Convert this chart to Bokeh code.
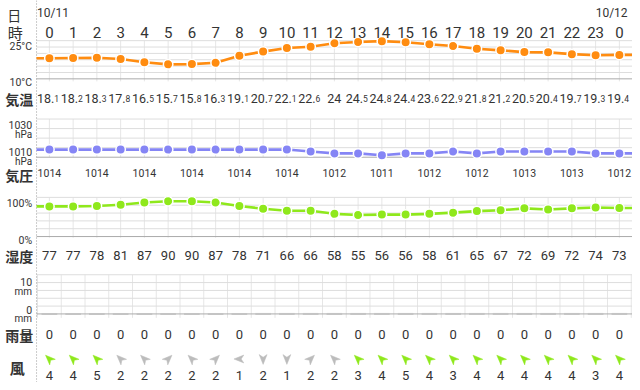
import math
from bokeh.plotting import figure
from bokeh.models import Range1d
from bokeh.core.properties import value
from bokeh.embed import file_html
from bokeh.resources import INLINE

# ---------------- data ----------------
hours = list(range(25))
hour_labels = ["0", "1", "2", "3", "4", "5", "6", "7", "8", "9", "10", "11", "12",
               "13", "14", "15", "16", "17", "18", "19", "20", "21", "22", "23", "0"]
date_labels = ["10/11", "10/12"]
date_hours = [0, 24]
temp = [18.1, 18.2, 18.3, 17.8, 16.5, 15.7, 15.8, 16.3, 19.1, 20.7, 22.1, 22.6, 24.0,
        24.5, 24.8, 24.4, 23.6, 22.9, 21.8, 21.2, 20.5, 20.4, 19.7, 19.3, 19.4]
pressure = [1014, 1014, 1014, 1014, 1014, 1014, 1014, 1014, 1014, 1014, 1014, 1013, 1012,
            1012, 1011, 1012, 1012, 1013, 1012, 1013, 1013, 1013, 1013, 1012, 1012]
humidity = [77, 77, 78, 81, 87, 90, 90, 87, 78, 71, 66, 66, 58, 55, 56, 56, 58, 61, 65,
            67, 72, 69, 72, 74, 73]
rain = [0, 0, 0, 0, 0, 0, 0, 0, 0, 0, 0, 0, 0, 0, 0, 0, 0, 0, 0, 0, 0, 0, 0, 0, 0]
wind_speed = [4, 4, 5, 2, 2, 2, 2, 2, 1, 2, 1, 2, 2, 3, 4, 5, 4, 3, 4, 4, 4, 4, 4, 3, 4]
wind_from = ["SE", "SE", "SE", "SE", "SE", "SW", "SE", "SW", "E", "N", "N", "SW", "SE",
             "SE", "SE", "SE", "SE", "SE", "SE", "SE", "SE", "SE", "SE", "SE", "SE"]
compass = {"N": 0, "NE": 45, "E": 90, "SE": 135, "S": 180, "SW": 225, "W": 270, "NW": 315}

temp_ticks = [25, 10]
pres_ticks = [1030, 1010]
hum_ticks = [100, 0]
rain_ticks = [10, 0]

# ---------------- layout (reference pixel frame 640x390, drawn into 632x382) ----------
W, H = 632, 382
REF_W, REF_H = 640, 390
SX = W / REF_W
PX0, DX = 49.5, 24.05          # reference x of hour 0, reference pixels per hour
def hx(px):                     # reference x -> hour coordinate
    return (px - PX0) / DX

DAY_EDGE = hx(36.5)
XEND = hx(REF_W)

FONT = "Roboto"
JFONT = "Noto Sans CJK JP"
TXT = "#333333"
GRID = "#dddddd"
GRID_DARK = "#aaaaaa"
VGRID = "#e6e6e6"
C_TEMP = "#ff8c10"
C_PRES = "#8585f5"
C_HUM = "#8fe81c"
C_WIND = "#8fe81c"
C_WIND_LOW = "#bcbcbc"

p = figure(width=W, height=H, output_backend="svg", toolbar_location=None,
           x_range=Range1d(hx(0), XEND), y_range=Range1d(REF_H, 0),
           x_axis_type=None, y_axis_type=None, min_border=0)
p.outline_line_color = None
p.background_fill_color = "white"
p.border_fill_color = "white"


def band(v_top, y_top, v_bot, y_bot):
    k = (y_bot - y_top) / (v_top - v_bot)
    return Range1d(start=v_bot - (REF_H - y_bot) / k, end=v_top + y_top / k)

p.extra_y_ranges = {
    "temp": band(temp_ticks[0], 41, temp_ticks[1], 80),
    "pres": band(pres_ticks[0], 121, pres_ticks[1], 160),
    "hum": band(hum_ticks[0], 201, hum_ticks[1], 241),
    "rain": band(rain_ticks[0], 280, rain_ticks[1], 320),
}


def text(x, y, t, size, color=TXT, align="center", font=FONT, style="normal", x_off=0, **kw):
    if isinstance(x_off, list):
        x_off = [v * SX for v in x_off]
    else:
        x_off = x_off * SX
    p.text(x=x, y=y, text=t, text_font=value(font), text_font_size=size,
           text_color=color, text_align=align, text_baseline="alphabetic",
           text_font_style=style, x_offset=x_off, **kw)


def left(ref_x, y, t, size, align="right", font=FONT, style="normal", color=TXT):
    text([hx(0)], [y], [t], size, color=color, align=align, font=font, style=style,
         x_off=ref_x)


def hgrid(levels, name, dark_level):
    for lv in levels:
        p.segment(x0=[DAY_EDGE], y0=[lv], x1=[XEND], y1=[lv], y_range_name=name,
                  line_color=GRID_DARK if lv == dark_level else GRID, line_width=1)


def vgrid(xs, top, bot, name):
    p.segment(x0=xs, y0=[top] * len(xs), x1=xs, y1=[bot] * len(xs), y_range_name=name,
              line_color=VGRID, line_width=1)


def series(vals, name, color):
    xs = [DAY_EDGE] + hours + [XEND]
    ys = [vals[0]] + vals + [vals[-1]]
    p.line(xs, ys, y_range_name=name, line_color=color, line_width=2.6)
    p.scatter(hours, vals, y_range_name=name, size=9.5, fill_color=color,
              line_color="white", line_width=1.5)

# ---- panels: grids ----
vgrid(hours, 25, 9, "temp")
hgrid([25, 22.5, 20, 17.5, 15, 12.5, 10], "temp", 10)
vgrid(hours, 1030, 1010, "pres")
hgrid([1030, 1025, 1020, 1015, 1010], "pres", 1010)
vgrid(hours, 100, -3, "hum")
hgrid([100, 80, 60, 40, 20, 0], "hum", 0)
half = [h - 0.5 for h in hours] + [hours[-1] + 0.5]
vgrid(half, 10, -1, "rain")
hgrid([10, 8, 6, 4, 2, 0], "rain", 0)

# day separator
p.segment(x0=[DAY_EDGE], y0=[REF_H], x1=[DAY_EDGE], y1=[0], line_color="#999999",
          line_width=1, line_dash="1 2")

# ---- series ----
series(temp, "temp", C_TEMP)
series(pressure, "pres", C_PRES)
series(humidity, "hum", C_HUM)
p.vbar(x=hours, top=rain, bottom=0, width=0.66, y_range_name="rain",
       fill_color="#9cc3f0", line_color=None)
p.segment(x0=[h - 0.33 for h in hours], y0=rain, x1=[h + 0.33 for h in hours], y1=rain,
          y_range_name="rain", line_color="#c4c4c4", line_width=2)

# ---- header rows ----
left(14, 15, "日", "14px", align="center", font=JFONT)
left(15, 33, "時", "15px", align="center", font=JFONT)
text(date_hours, [13, 13], date_labels, "12px", align="left", x_off=[-12.5, -24])
text(hours, [33] * 25, hour_labels, "15px")

# ---- temperature ----
left(32, 47, "25°C", "10.5px")
left(32, 83.5, "10°C", "10.5px")
left(19, 101, "気温", "14px", align="center", font=JFONT, style="bold")
t_main, t_small, t_int = [], [], []
xm, xi = [], []
for h, t in zip(hours, temp):
    s = f"{t:.1f}"
    ip, dp = s.split(".")
    if dp == "0":
        t_int.append(ip)
        xi.append(h)
    else:
        t_main.append(ip + ".")
        t_small.append(dp)
        xm.append(h)
text(xm, [100] * len(xm), t_main, "12.5px", align="right", x_off=5)
text(xm, [100] * len(xm), t_small, "8.5px", align="left", x_off=5)
text(xi, [100] * len(xi), t_int, "12.5px")

# ---- pressure ----
left(32, 127, "1030", "10.5px")
left(32, 136.5, "hPa", "10px")
left(32, 155, "1010", "10.5px")
left(32, 164.5, "hPa", "10px")
left(19, 178, "気圧", "14px", align="center", font=JFONT, style="bold")
ph = hours[::2]
text(ph, [176.5] * len(ph), [str(pressure[h]) for h in ph], "10.5px")

# ---- humidity ----
left(32, 207.5, "100%", "10.5px")
left(32, 245, "0%", "10.5px")
left(19, 261, "湿度", "14px", align="center", font=JFONT, style="bold")
text(hours, [260.5] * 25, [str(v) for v in humidity], "13px")

# ---- rain ----
left(32, 287.5, "10", "10.5px")
left(32, 297.5, "mm", "10px")
left(32, 315.5, "0", "10.5px")
left(32, 325, "mm", "10px")
left(19, 341, "雨量", "14px", align="center", font=JFONT, style="bold")
text(hours, [340.5] * 25, [str(v) for v in rain], "13px")

# ---- wind ----
left(17, 375, "風", "15px", align="center", font=JFONT, style="bold")
shape = [(0, -5.5), (4, 4.5), (0, 1.8), (-4, 4.5)]
wxs, wys, wcol = [], [], []
for h, d, s in zip(hours, wind_from, wind_speed):
    th = math.radians((compass[d] + 180) % 360)
    px_ = [x * math.cos(th) - y * math.sin(th) for x, y in shape]
    py_ = [x * math.sin(th) + y * math.cos(th) for x, y in shape]
    wxs.append([h + v / DX for v in px_])
    wys.append([366 + v for v in py_])
    wcol.append(C_WIND if s >= 3 else C_WIND_LOW)
p.patches(wxs, wys, fill_color=wcol, line_color=wcol, line_width=0.5)
text(hours, [382.5] * 25, [str(v) for v in wind_speed], "13px")

open("out.html", "w").write(file_html(p, INLINE))
